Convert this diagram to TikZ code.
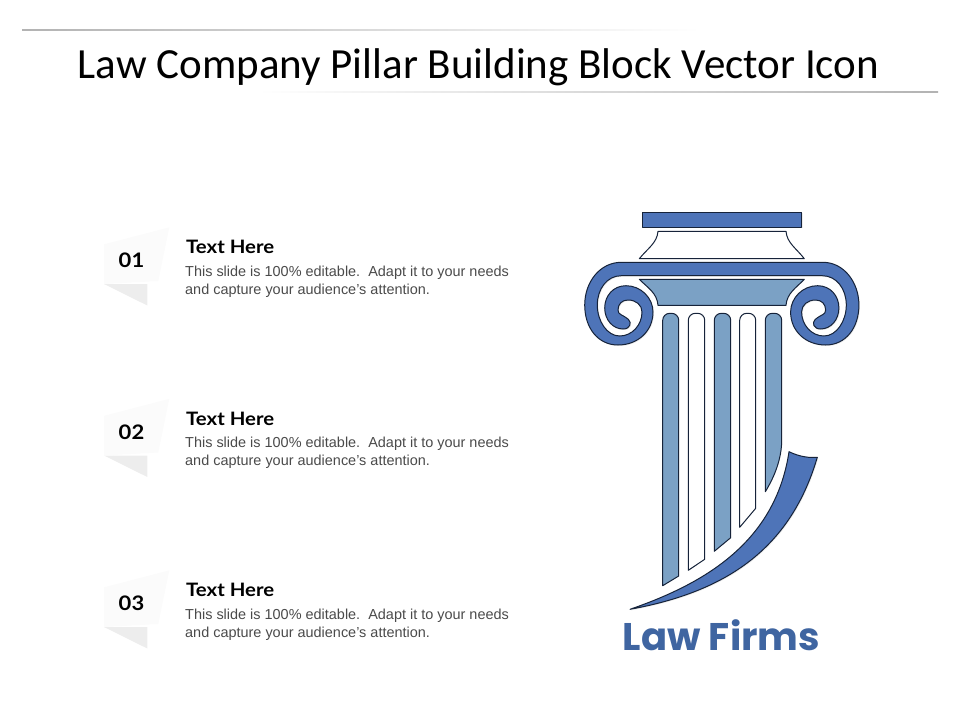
\documentclass[tikz,border=0pt]{standalone}
\usepackage{fontspec}
\setmainfont{Liberation Sans}
\newfontfamily\gillfont{Carlito}
\newfontfamily\headfont[FakeStretch=1.1]{Lato}
\newfontfamily\brandfont{Poppins}
\usetikzlibrary{shadows}
\definecolor{pillarblue}{HTML}{4E74B8}
\definecolor{pillarlight}{HTML}{7BA1C5}
\definecolor{pillarline}{HTML}{16233A}
\definecolor{brandblue}{HTML}{3F65A1}
\definecolor{bodygrey}{HTML}{4A4A4A}
\tikzset{
    glow/.style={drop shadow={shadow xshift=1pt,shadow yshift=-1pt,opacity=.08,fill=black}},
    part/.style={draw=pillarline,line width=1pt,line join=round},
    bluepart/.style={part,fill=pillarblue,glow},
    lightpart/.style={part,fill=pillarlight},
    whitepart/.style={part,fill=white},
    headtext/.style={font=\headfont\bfseries\fontsize{18.5}{18.5}\selectfont,anchor=base west,inner sep=0pt},
    bodytext/.style={font=\fontsize{14.45}{18}\selectfont,text=bodygrey,anchor=north west,inner sep=0pt,align=left},
    numtext/.style={font=\headfont\bfseries\fontsize{20}{20}\selectfont,inner sep=0pt},
}
\begin{document}
\begin{tikzpicture}[x=1pt,y=-1pt]
    \useasboundingbox (0,0) rectangle (960,720);
    % rules
    \shade[left color=black!30,right color=white] (22,29.6) rectangle (700,30.6);
    \shade[left color=white,right color=black!30] (258,91) rectangle (938,92);
    \node[font=\gillfont\fontsize{43}{43}\selectfont,inner sep=0pt,anchor=base] (title) at (478.5,78.5) {Law Company Pillar Building Block Vector Icon};
    % list
    \foreach \n/\d in {1/0,2/171.5,3/343} {
        \fill[black!7] (104,{284+\d}) -- (147.3,{305.5+\d}) -- (147.3,{284+\d}) -- cycle;
        \fill[black!1.5] (104,{244.3+\d}) -- (169.3,{227.3+\d}) -- (158.3,{281+\d}) -- (104,{284+\d}) -- cycle;
        \node[numtext] (num\n) at (131.5,{260.5+\d}) {0\n};
        \node[headtext] (head\n) at (186,{253.5+\d}) {Text Here};
        \node[bodytext] (body\n) at (185,{265.5+\d}) {This slide is 100\% editable.\ \ Adapt it to your needs\\and capture your audience’s attention.};
    }
    % capital
    \draw[bluepart] (642.3,212.3) rectangle (801.7,227.3);
    \draw[whitepart] (658,231.3) -- (786,231.3) .. controls (787,243) and (796,248) .. (804.3,258.7) -- (639.3,258.7) .. controls (648,248) and (657,243) .. (658,231.3) -- cycle;
    \draw[bluepart] (823,262.3) -- (621.3,262.3) .. controls (600,262.3) and (584.7,282) .. (584.7,305)
        .. controls (584.7,328) and (598,345) .. (618,345) .. controls (638,345) and (653,331) .. (653,312)
        .. controls (653,298) and (641,285.7) .. (626,285.7) .. controls (613,285.7) and (604.7,296) .. (604.7,308)
        .. controls (604.7,320) and (613,329) .. (623,329) .. controls (630,329) and (632,323) .. (628.5,319.5)
        .. controls (622,314) and (618,315) .. (618,310) .. controls (618,304) and (622,300) .. (628,300)
        .. controls (636,300) and (642,305) .. (642,312) .. controls (642,325) and (632,336) .. (619.7,336)
        .. controls (607,336) and (597.3,321) .. (597.3,305) .. controls (597.3,289) and (607,275.7) .. (621.3,275.7)
        -- (822.3,275.7) .. controls (836.6,275.7) and (846.3,289) .. (846.3,305)
        .. controls (846.3,321) and (836.6,336) .. (823.9,336) .. controls (811.6,336) and (801.6,325) .. (801.6,312)
        .. controls (801.6,305) and (807.6,300) .. (815.6,300) .. controls (821.6,300) and (825.6,304) .. (825.6,310)
        .. controls (825.6,315) and (821.6,314) .. (815.1,319.5) .. controls (811.6,323) and (813.6,329) .. (820.6,329)
        .. controls (830.6,329) and (838.9,320) .. (838.9,308) .. controls (838.9,296) and (830.6,285.7) .. (817.6,285.7)
        .. controls (802.6,285.7) and (790.6,298) .. (790.6,312) .. controls (790.6,331) and (805.6,345) .. (825.6,345)
        .. controls (845.6,345) and (858.9,328) .. (858.9,305) .. controls (858.9,282) and (843.6,262.3) .. (823,262.3) -- cycle;
    \draw[lightpart] (639.3,279.3) -- (804.3,279.3) .. controls (796,288) and (787,293) .. (786,305.3) -- (658,305.3) .. controls (657,293) and (648,288) .. (639.3,279.3) -- cycle;
    % flutes
    \foreach \xa/\xb/\ya/\yb/\c in {662.7/678.7/585.7/576/lightpart,688.3/704.7/570.3/559.3/whitepart,714.3/730.7/551.3/537.7/lightpart,739.7/755.7/527.3/508.3/whitepart} {
        \draw[\c] (\xa,\ya) [rounded corners=7pt] -- (\xa,313.3) -- (\xb,313.3) [sharp corners] -- (\xb,\yb) -- cycle;
    }
    \draw[lightpart] (765.3,491.7) [rounded corners=7pt] -- (765.3,313.3) -- (781.7,313.3) [sharp corners] -- (781.7,440) .. controls (781.7,458) and (775,476) .. (765.3,491.7) -- cycle;
    % swoosh
    \draw[bluepart] (630,609.3) .. controls (700,585) and (775,545) .. (789,451.7) .. controls (800,457) and (810,458) .. (817.3,457.3) .. controls (790,550) and (725,592) .. (630,609.3) -- cycle;
    \node[font=\brandfont\bfseries\fontsize{38.5}{38.5}\selectfont,text=brandblue,inner sep=0pt] (brand) at (721.5,635) {Law Firms};
\end{tikzpicture}
\end{document}
